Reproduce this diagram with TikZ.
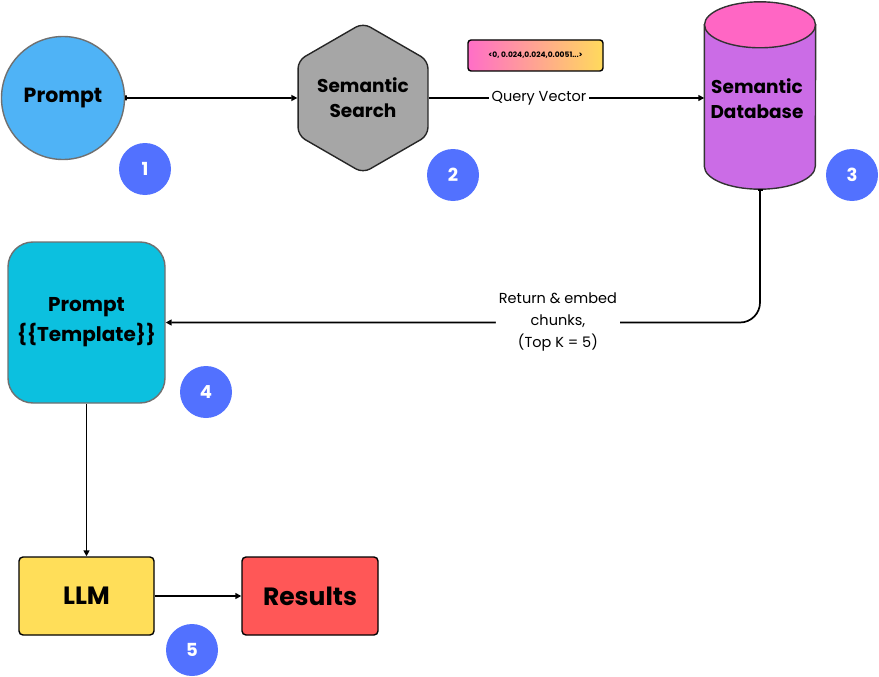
\documentclass[tikz,border=0pt]{standalone}
\usepackage{fontspec}
\setmainfont{Poppins}
\usetikzlibrary{shapes.geometric,arrows.meta,positioning}
\definecolor{promptblue}{HTML}{4FB3F6}
\definecolor{hexgrey}{HTML}{A6A6A6}
\definecolor{dbtop}{HTML}{FF66C4}
\definecolor{dbbody}{HTML}{CB6CE6}
\definecolor{tplcyan}{HTML}{0CC0DF}
\definecolor{llmyellow}{HTML}{FFDE59}
\definecolor{resred}{HTML}{FF5757}
\definecolor{badgeblue}{HTML}{5271FF}
\definecolor{bordergrey}{HTML}{707070}
\definecolor{vecpink}{HTML}{FF6EC7}
\definecolor{vecyellow}{HTML}{FFDA5C}
\tikzset{
  lbl/.style={font=\bfseries\fontsize{18.5}{25}\selectfont, align=center},
  badge/.style={circle, fill=badgeblue, minimum size=52pt, inner sep=0pt, text=white, font=\bfseries\fontsize{18}{20}\selectfont},
  conn/.style={line width=1.7pt, -{Triangle[length=6pt,width=6pt]}},
  edgelbl/.style={fill=white, font=\fontsize{14.5}{22}\selectfont, align=center, inner sep=3pt},
}
\begin{document}
\begin{tikzpicture}[x=1pt,y=-1pt]
\useasboundingbox (0,0) rectangle (879,677);
% top row
\node[circle, draw=bordergrey, line width=1.4pt, fill=promptblue, minimum size=123pt, lbl, font=\bfseries\fontsize{20.5}{25}\selectfont] (prompt) at (63,98) {\raisebox{-3pt}{Prompt}};
\node[regular polygon, regular polygon sides=6, shape border rotate=90, minimum size=150pt, inner sep=0pt, draw=black!85, line width=1.4pt, fill=hexgrey, rounded corners=8pt, lbl] (search) at (363,98) {Semantic\\Search};
\node[minimum width=111pt, minimum height=187pt, inner sep=0pt] (db) at (760,95.5) {};
\draw[draw=black!80, line width=1.4pt, fill=dbbody] ([yshift=-23pt]db.north west) -- ([yshift=23pt]db.south west) arc[start angle=180, end angle=360, x radius=55.5pt, y radius=23pt] -- ([yshift=-23pt]db.north east) -- cycle;
\draw[draw=black!80, line width=1.4pt, fill=dbtop] ([yshift=-23pt]db.north) ellipse[x radius=55.5pt, y radius=23pt];
\node[lbl] (dbtext) at (757,99) {Semantic\\Database};
\node[draw=black, line width=1.4pt, rounded corners=3pt, left color=vecpink, right color=vecyellow, minimum width=135pt, minimum height=31pt, font=\bfseries\fontsize{7.5}{8}\selectfont] (vec) at (535.5,55.5) {<0, 0.024,0.024,0.0051...>};

% left column
\node[draw=bordergrey, line width=1.4pt, fill=tplcyan, rounded corners=25pt, minimum width=157pt, minimum height=161pt, lbl, font=\bfseries\fontsize{20}{30}\selectfont] (tpl) at (86.5,322.5) {Prompt\\\{\{Template\}\}};
\node[draw=black, line width=1.4pt, fill=llmyellow, rounded corners=4pt, minimum width=135pt, minimum height=78pt, font=\bfseries\fontsize{25}{28}\selectfont] (llm) at (86.5,596) {LLM};
\node[draw=black, line width=1.4pt, fill=resred, rounded corners=4pt, minimum width=136pt, minimum height=78pt, font=\bfseries\fontsize{25}{28}\selectfont] (results) at (310,596) {Results};

% badges
\node[badge] (b1) at (145,169) {1};
\node[badge] (b2) at (453,175) {2};
\node[badge] (b3) at (852,175) {3};
\node[badge] (b4) at (206,392) {4};
\node[badge] (b5) at (192,650) {5};

% connectors
\draw[conn, {Bar[width=5pt]}-{Triangle[length=6pt,width=6pt]}] (prompt.east) -- (search.west);
\draw[conn] (search.east) -- node[edgelbl, pos=0.4] (qv) {Query Vector} (db.west |- search.east);
\draw[conn, {Bar[width=5pt]}-{Triangle[length=6pt,width=6pt]}, rounded corners=20pt] (db.south) |- node[edgelbl, pos=0.67] (ret) {Return \& embed\\chunks,\\(Top K = 5)} (tpl.east);
\draw[conn] (tpl.south) -- (llm.north);
\draw[conn] (llm.east) -- (results.west);
\end{tikzpicture}
\end{document}
